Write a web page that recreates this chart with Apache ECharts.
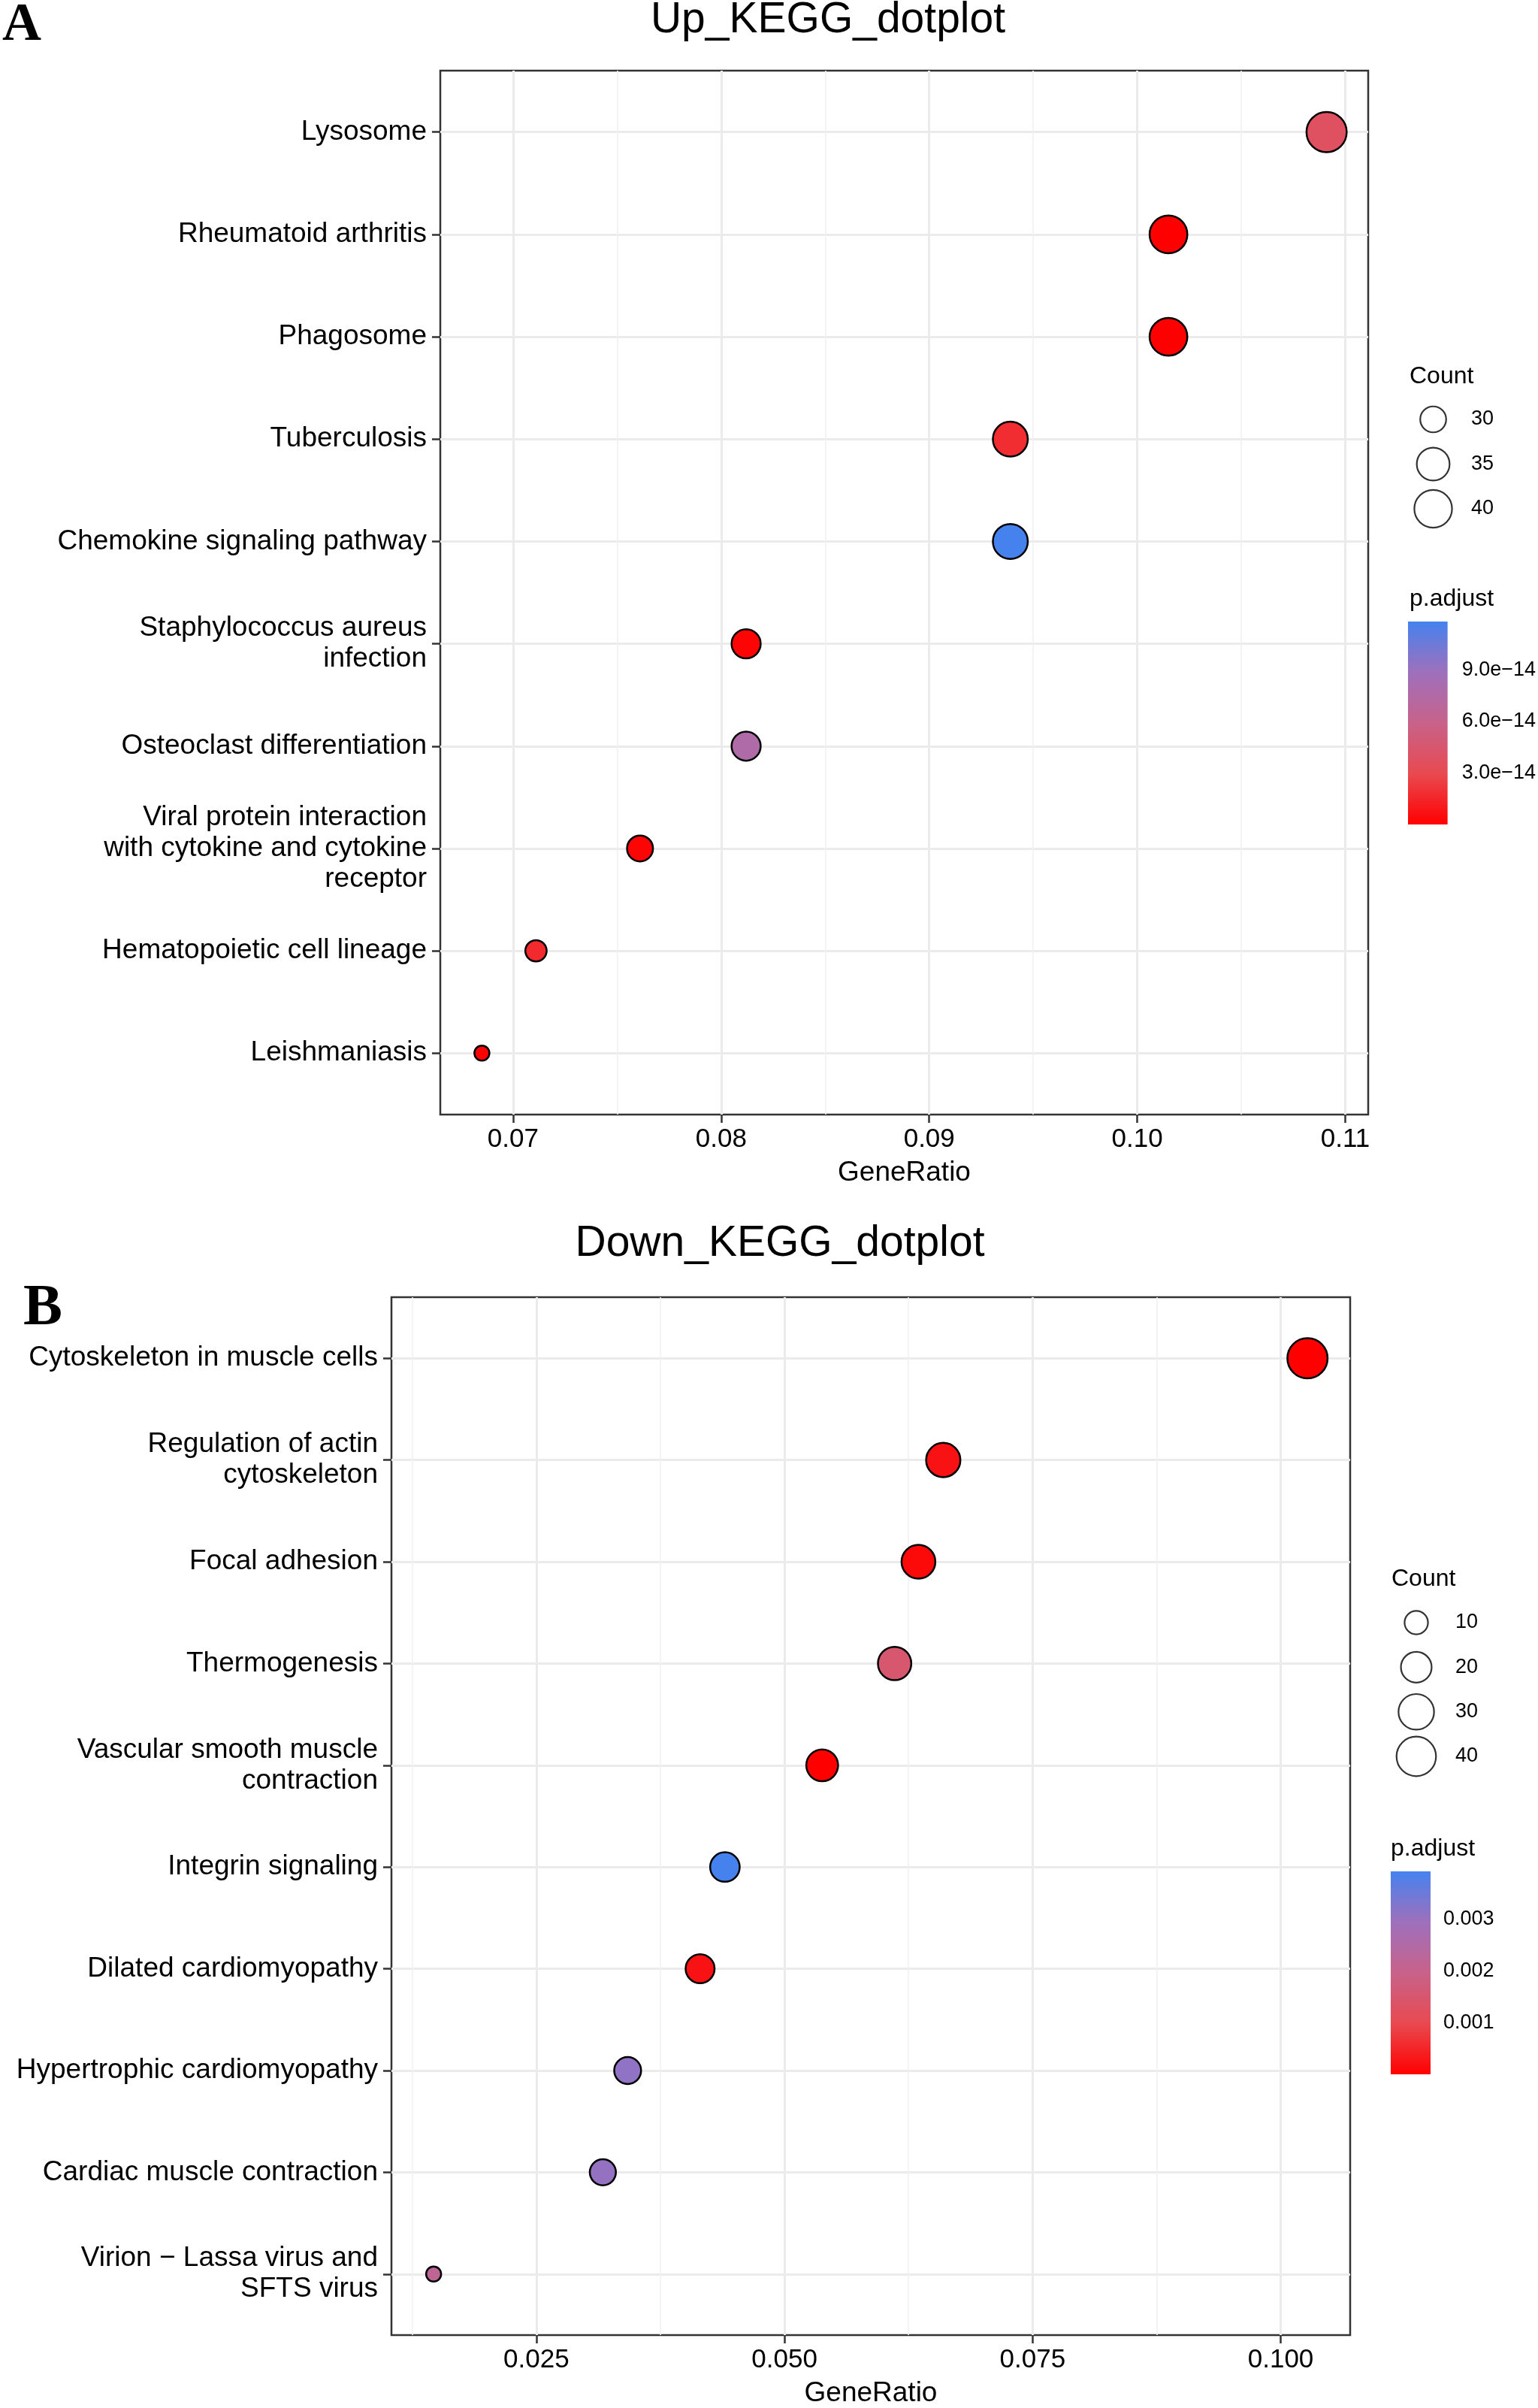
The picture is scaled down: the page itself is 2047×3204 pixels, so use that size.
<!DOCTYPE html>
<html>
<head>
<meta charset="utf-8">
<script src="https://cdn.jsdelivr.net/npm/echarts@6/dist/echarts.min.js"></script>
<style>
html,body{margin:0;padding:0;background:#fff;}
#chart{width:2047px;height:3204px;}
</style>
</head>
<body>
<div id="chart"></div>
<script>
// ---------- data ----------
const upCategories = ['Lysosome','Rheumatoid arthritis','Phagosome','Tuberculosis','Chemokine signaling pathway',
  'Staphylococcus aureus\ninfection','Osteoclast differentiation','Viral protein interaction\nwith cytokine and cytokine\nreceptor',
  'Hematopoietic cell lineage','Leishmaniasis'];
const upGeneRatio = [0.1091,0.1015,0.1015,0.0939,0.0939,0.0812,0.0812,0.0761,0.0711,0.0685];
const upCount = [43,40,40,37,37,32,32,30,28,27];
const upPadj = [3.8e-14,1e-16,1e-16,1.8e-14,1.18e-13,2e-15,7.7e-14,2e-15,1.7e-14,1e-15];

const downCategories = ['Cytoskeleton in muscle cells','Regulation of actin\ncytoskeleton','Focal adhesion','Thermogenesis',
  'Vascular smooth muscle\ncontraction','Integrin signaling','Dilated cardiomyopathy','Hypertrophic cardiomyopathy',
  'Cardiac muscle contraction','Virion \u2212 Lassa virus and\nSFTS virus'];
const downGeneRatio = [0.1027,0.0660,0.0635,0.0611,0.0538,0.0440,0.0415,0.0342,0.0317,0.01465];
const downCount = [42,27,26,25,22,18,17,14,13,6];
const downPadj = [1e-6,2.4e-4,1.2e-4,1.5e-3,1e-6,3.93e-3,2.4e-4,3.1e-3,3.05e-3,2.2e-3];

const upXTicks = [0.07,0.08,0.09,0.10,0.11];
const upXMinor = [0.075,0.085,0.095,0.105];
const downXTicks = [0.025,0.050,0.075,0.100];
const downXMinor = [0.0125,0.0375,0.0625,0.0875];
const upCountLegend = [30,35,40];
const downCountLegend = [10,20,30,40];
const upPadjTicks = [3e-14,6e-14,9e-14];
const downPadjTicks = [0.001,0.002,0.003];

// ---------- styling helpers ----------
const FONT = '"Liberation Sans", Arial, Helvetica, sans-serif';
const gradStops = ['#FF0000','#E84A50','#C8628A','#9E70BC','#4682EE'];
function sizeFor(c, cmin, cmax){ return 20 + 33.5*Math.sqrt(Math.max(0,(c-cmin))/(cmax-cmin)); }
const upMin = Math.min(...upCount), upMax = Math.max(...upCount);
const dnMin = Math.min(...downCount), dnMax = Math.max(...downCount);
const upPMin = Math.min(...upPadj), upPMax = Math.max(...upPadj);
const dnPMin = Math.min(...downPadj), dnPMax = Math.max(...downPadj);

const upData = upCategories.map((c,i)=>[upGeneRatio[i], i, upPadj[i], upCount[i]]);
const downData = downCategories.map((c,i)=>[downGeneRatio[i], i, downPadj[i], downCount[i]]);
const idx = n => Array.from({length:n},(_, i)=>i);

function mainX(grid, min, max, ticks, fmt){
  return {type:'value', gridIndex:grid, min:min, max:max, position:'bottom',
    axisLine:{show:false, onZero:false},
    axisTick:{show:true, customValues:ticks, length:11, lineStyle:{color:'#333', width:2.5}},
    axisLabel:{show:true, customValues:ticks, formatter:fmt, margin:16, fontFamily:FONT, fontSize:35, color:'#000'},
    splitLine:{show:true, lineStyle:{color:'#EBEBEB', width:3}},
    name:'GeneRatio', nameLocation:'middle', nameGap:59, nameTextStyle:{fontFamily:FONT, fontSize:37, color:'#000'}};
}
function minorX(grid, min, max, ticks){
  return {type:'value', gridIndex:grid, min:min, max:max, position:'bottom',
    axisLine:{show:false, onZero:false}, axisTick:{show:false, customValues:ticks}, axisLabel:{show:false, customValues:ticks},
    splitLine:{show:true, lineStyle:{color:'#F1F1F1', width:1.6}}};
}
function mainY(grid, cats){
  const t = idx(cats.length);
  return {type:'value', gridIndex:grid, min:-0.6, max:cats.length-1+0.6, inverse:true, position:'left',
    axisLine:{show:false, onZero:false},
    axisTick:{show:true, customValues:t, length:11, lineStyle:{color:'#333', width:2.5}},
    axisLabel:{show:true, customValues:t, formatter:v=>cats[Math.round(v)], margin:18, fontFamily:FONT, fontSize:37, color:'#000', lineHeight:41, align:'right', padding:[8,0,0,0]},
    splitLine:{show:true, lineStyle:{color:'#EBEBEB', width:3}}};
}
function legendY(grid, labels, margin){
  return {type:'category', gridIndex:grid, data:labels.map(String), boundaryGap:false, inverse:true, position:'right',
    axisLine:{show:false}, axisTick:{show:false}, splitLine:{show:false},
    axisLabel:{margin:margin, fontFamily:FONT, fontSize:27, color:'#000'}};
}
function barY(grid, min, max, ticks, pos, fmt, showLabel, margin){
  return {type:'value', gridIndex:grid, min:min, max:max, position:pos,
    axisLine:{show:false},
    axisTick:{show:true, inside:true, customValues:ticks, length:11, lineStyle:{color:'#FFFFFF', width:2}},
    axisLabel:{show:showLabel, customValues:ticks, formatter:fmt, margin:margin, fontFamily:FONT, fontSize:27, color:'#000'},
    splitLine:{show:false}};
}
const hiddenVal = g => ({type:'value', gridIndex:g, min:-1, max:1, show:false});
const hiddenCat = g => ({type:'category', gridIndex:g, data:['bar'], show:false});
const gradient = () => new echarts.graphic.LinearGradient(0,1,0,0, gradStops.map((c,i)=>({offset:i/(gradStops.length-1), color:c})));
const expFmt = v => v.toExponential(1).replace('-', '\u2212');

const option = {
  animation:false,
  backgroundColor:'#fff',
  title:[
    {text:'A', left:3, top:-2, padding:0, textStyle:{fontFamily:'"Liberation Serif", "Times New Roman", serif', fontWeight:'bold', fontSize:72, color:'#000'}},
    {text:'B', left:31, top:1703, padding:0, textStyle:{fontFamily:'"Liberation Serif", "Times New Roman", serif', fontWeight:'bold', fontSize:78, color:'#000'}},
    {text:'Up_KEGG_dotplot', left:1102, textAlign:'center', top:-1, padding:0, textStyle:{fontFamily:FONT, fontWeight:'normal', fontSize:57, color:'#000'}},
    {text:'Down_KEGG_dotplot', left:1038, textAlign:'center', top:1627, padding:0, textStyle:{fontFamily:FONT, fontWeight:'normal', fontSize:57, color:'#000'}},
    {text:'Count', left:1876, top:485, padding:0, textStyle:{fontFamily:FONT, fontWeight:'normal', fontSize:32, color:'#000'}},
    {text:'p.adjust', left:1876, top:781, padding:0, textStyle:{fontFamily:FONT, fontWeight:'normal', fontSize:32, color:'#000'}},
    {text:'Count', left:1852, top:2085, padding:0, textStyle:{fontFamily:FONT, fontWeight:'normal', fontSize:32, color:'#000'}},
    {text:'p.adjust', left:1851, top:2444, padding:0, textStyle:{fontFamily:FONT, fontWeight:'normal', fontSize:32, color:'#000'}}
  ],
  grid:[
    {left:586, top:94, width:1235, height:1389, show:true, borderColor:'#333', borderWidth:2.5, backgroundColor:'transparent', containLabel:false},
    {left:521, top:1726, width:1276, height:1389, show:true, borderColor:'#333', borderWidth:2.5, backgroundColor:'transparent', containLabel:false},
    {left:1877.5, top:558, width:60, height:119, containLabel:false},
    {left:1874, top:827, width:54, height:270, containLabel:false},
    {left:1855, top:2159, width:60, height:178, containLabel:false},
    {left:1851, top:2490, width:53, height:270, containLabel:false}
  ],
  xAxis:[
    mainX(0, 0.0665, 0.1111, upXTicks, v=>v.toFixed(2)),
    minorX(0, 0.0665, 0.1111, upXMinor),
    mainX(1, 0.0104, 0.107, downXTicks, v=>v.toFixed(3)),
    minorX(1, 0.0104, 0.107, downXMinor),
    hiddenVal(2), hiddenCat(3), hiddenVal(4), hiddenCat(5)
  ],
  yAxis:[
    mainY(0, upCategories),
    mainY(1, downCategories),
    legendY(2, upCountLegend, 20.5),
    barY(3, upPMin, upPMax, upPadjTicks, 'right', expFmt, true, 19),
    barY(3, upPMin, upPMax, upPadjTicks, 'left', expFmt, false, 8),
    legendY(4, downCountLegend, 22),
    barY(5, dnPMin, dnPMax, downPadjTicks, 'right', v=>v.toFixed(3), true, 17),
    barY(5, dnPMin, dnPMax, downPadjTicks, 'left', v=>v.toFixed(3), false, 8)
  ],
  visualMap:[
    {type:'continuous', show:false, seriesIndex:0, dimension:2, min:upPMin, max:upPMax, inRange:{color:gradStops}},
    {type:'continuous', show:false, seriesIndex:1, dimension:2, min:dnPMin, max:dnPMax, inRange:{color:gradStops}}
  ],
  series:[
    {type:'scatter', xAxisIndex:0, yAxisIndex:0, data:upData, symbol:'circle',
      symbolSize:v=>sizeFor(v[3], upMin, upMax), itemStyle:{borderColor:'#000', borderWidth:2.5, opacity:1}, z:5},
    {type:'scatter', xAxisIndex:2, yAxisIndex:1, data:downData, symbol:'circle',
      symbolSize:v=>sizeFor(v[3], dnMin, dnMax), itemStyle:{borderColor:'#000', borderWidth:2.5, opacity:1}, z:5},
    {type:'scatter', xAxisIndex:4, yAxisIndex:2, data:upCountLegend.map((c,i)=>[0, i, c]), symbol:'circle',
      symbolSize:v=>sizeFor(v[2], upMin, upMax), itemStyle:{color:'#fff', borderColor:'#000', borderWidth:2.2}},
    {type:'bar', xAxisIndex:5, yAxisIndex:3, data:[upPMax], barWidth:'100%', itemStyle:{color:gradient()}},
    {type:'scatter', xAxisIndex:6, yAxisIndex:5, data:downCountLegend.map((c,i)=>[0, i, c]), symbol:'circle',
      symbolSize:v=>sizeFor(v[2], dnMin, dnMax), itemStyle:{color:'#fff', borderColor:'#000', borderWidth:2.2}},
    {type:'bar', xAxisIndex:7, yAxisIndex:6, data:[dnPMax], barWidth:'100%', itemStyle:{color:gradient()}}
  ]
};
const chart = echarts.init(document.getElementById('chart'), null, {renderer:'canvas', width:2047, height:3204});
chart.setOption(option);
</script>
</body>
</html>
